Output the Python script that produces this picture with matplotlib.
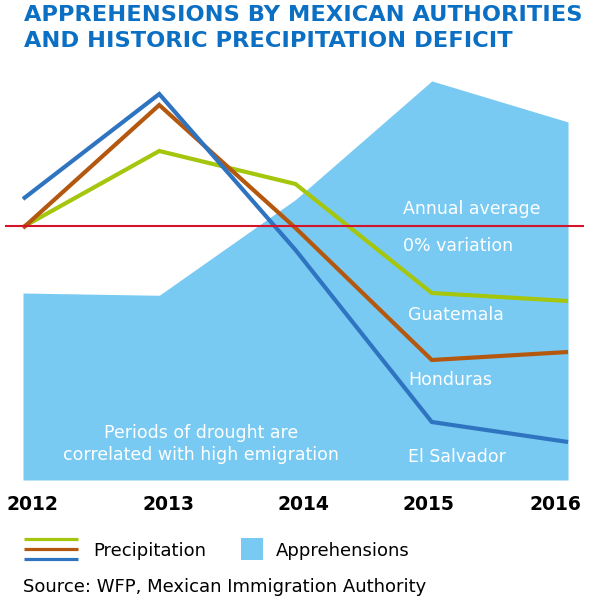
import matplotlib as mpl
mpl.use('Agg')
from matplotlib import pyplot as plt
from matplotlib.patches import Rectangle
from matplotlib.transforms import ScaledTranslation

mpl.rc('font', family='DejaVu Sans')

# data
years = [2012, 2013, 2014, 2015, 2016]
apprehensions = [82, 81, 123, 175, 157]          # thousands
guatemala = [-0.5, 37.5, 21, -33.5, -37.5]       # precipitation variation
honduras = [-1, 60.5, -1, -67, -63]
el_salvador = [13.5, 66, -12, -98, -108]
year_labels = ['2012', '2013', '2014', '2015', '2016']

c_fill = '#78caf2'
c_green = '#a4c60c'
c_orange = '#b5580f'
c_blue = '#2f74c0'
c_red = '#d4142a'
c_title = '#0b6fc3'

W, H = 600, 599

def fx(x):
    return x / W

def fy(y):
    return 1 - y / H

fig = plt.figure(figsize=(W / 100, H / 100), dpi=100)

ax = fig.add_axes([fx(5), fy(480), fx(584) - fx(5), fy(70) - fy(480)])
ax.set_xlim(2011.868, 2016.117)
ax.set_ylim(0, 179.8)
ax.fill_between(years, apprehensions, color=c_fill, lw=0)

for s in ax.spines.values():
    s.set_visible(False)
ax.set_yticks([])
ax.set_xticks(years)
ax.set_xticklabels(year_labels, fontweight='bold', fontsize=13.5)
ax.tick_params(axis='x', length=0, pad=11)

# the reference spreads its year labels a little unevenly (pixels)
shifts = [9, 9, 8, -3, -13]
for lab, dx in zip(ax.get_xticklabels(), shifts):
    lab.set_transform(lab.get_transform() + ScaledTranslation(dx / 100, 0, fig.dpi_scale_trans))

ax2 = ax.twinx()
ax2.set_ylim(-127, 78)
for vals, c in [(guatemala, c_green), (honduras, c_orange), (el_salvador, c_blue)]:
    ax2.plot(years, vals, color=c, lw=3, solid_joinstyle='miter', solid_capstyle='butt')
ax2.axhline(0, color=c_red, lw=1.5, zorder=3)
for s in ax2.spines.values():
    s.set_visible(False)
ax2.set_yticks([])

# overlay in pixel coordinates for titles, labels and legend
lax = fig.add_axes([0, 0, 1, 1])
lax.set_xlim(0, W)
lax.set_ylim(H, 0)
lax.axis('off')

lax.text(24, 21, 'APPREHENSIONS BY MEXICAN AUTHORITIES', color=c_title,
         fontsize=16.2, fontweight='bold', va='baseline')
lax.text(24, 47, 'AND HISTORIC PRECIPITATION DEFICIT', color=c_title,
         fontsize=16.2, fontweight='bold', va='baseline')

wkw = dict(color='white', fontsize=12.5, va='baseline')
lax.text(403, 214, 'Annual average', **wkw)
lax.text(403, 251, '0% variation', **wkw)
lax.text(408, 320, 'Guatemala', **wkw)
lax.text(408, 385, 'Honduras', **wkw)
lax.text(408, 462, 'El Salvador', **wkw)
lax.text(201, 438, 'Periods of drought are', ha='center', **wkw)
lax.text(201, 460, 'correlated with high emigration', ha='center', **wkw)

# legend
for yy, c in [(539, c_green), (549, c_orange), (559, c_blue)]:
    lax.plot([24, 78], [yy, yy], color=c, lw=2.3, solid_capstyle='butt')
lax.add_patch(Rectangle((241, 538), 22, 22, color=c_fill, lw=0))
lax.text(93, 556, 'Precipitation', fontsize=13, va='baseline')
lax.text(276, 556, 'Apprehensions', fontsize=13, va='baseline')
lax.text(23, 592, 'Source: WFP, Mexican Immigration Authority', fontsize=13, va='baseline')

fig.savefig('out.png', dpi=100)
